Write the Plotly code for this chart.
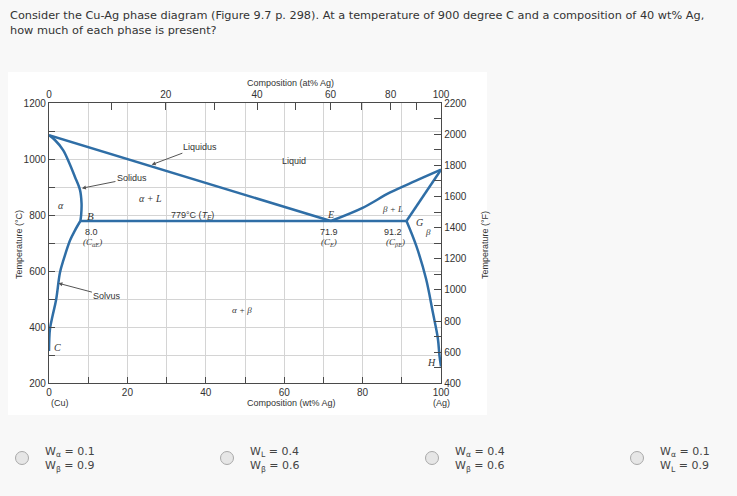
import plotly.graph_objects as go

# ---------------- data ----------------
liq_left_wt = [0, 71.9]
liq_left_t = [1085, 779]
liq_right_wt = [71.9, 80.0, 86.9, 93.5, 100]
liq_right_t = [779, 826, 880, 922, 962]
sol_left_wt = [0, 1.5, 3.6, 5.2, 6.6, 7.9, 8.3, 8.2, 8.0]
sol_left_t = [1085, 1068, 1032, 985, 937, 890, 842, 800, 779]
sol_right_wt = [91.2, 100]
sol_right_t = [779, 962]
solv_left_wt = [8.0, 6.6, 5.4, 3.7, 2.8, 1.8, 0.9, 0.25, 0]
solv_left_t = [779, 745, 711, 640, 595, 497, 440, 394, 315]
solv_right_wt = [91.2, 93.7, 96.2, 97.9, 99.2, 99.6, 100]
solv_right_t = [779, 690, 572, 454, 360, 300, 260]
eut_wt = [8.0, 91.2]
eut_t = [779, 779]

wt_ticks = [0, 10, 20, 30, 40, 50, 60, 70, 80, 90, 100]
wt_labels = ["0", "", "20", "", "40", "", "60", "", "80", "", "100"]
at_ticks = [0, 10, 20, 30, 40, 50, 60, 70, 80, 90, 100]
at_labels = ["0", "", "20", "", "40", "", "60", "", "80", "", "100"]
c_ticks = [200, 300, 400, 500, 600, 700, 800, 900, 1000, 1100, 1200]
c_labels = ["200", "", "400", "", "600", "", "800", "", "1000", "", "1200"]
f_ticks = [400, 500, 600, 700, 800, 900, 1000, 1100, 1200, 1300, 1400, 1500,
           1600, 1700, 1800, 1900, 2000, 2100, 2200]
f_labels = ["400", "", "600", "", "800", "", "1000", "", "1200", "", "1400", "",
            "1600", "", "1800", "", "2000", "", "2200"]

question = ("Consider the Cu-Ag phase diagram (Figure 9.7 p. 298). At a temperature of 900 degree C "
            "and a composition of 40 wt% Ag,<br>how much of each phase is present?")
options = [
    "W<sub>α</sub> = 0.1<br>W<sub>β</sub> = 0.9",
    "W<sub>L</sub> = 0.4<br>W<sub>β</sub> = 0.6",
    "W<sub>α</sub> = 0.4<br>W<sub>β</sub> = 0.6",
    "W<sub>α</sub> = 0.1<br>W<sub>L</sub> = 0.9",
]

# atomic masses for top (at%) axis placement
M_CU, M_AG = 63.55, 107.87


def at_to_wt(a):
    return 100 * a * M_AG / (a * M_AG + (100 - a) * M_CU)


W, H = 737, 496
PAGE_BG = "#f8f8f8"


def px(x):
    return x / W


def py(y):
    return 1 - y / H


LINE = "#2f6ea6"
TXT = "#333333"
GRID = "#d4d4d4"
AX = "#4a4a4a"
SANS = "Liberation Sans, Arial, sans-serif"
SERIF = "Liberation Serif, Times New Roman, serif"

fig = go.Figure()
for xs, ys in [(liq_left_wt, liq_left_t), (liq_right_wt, liq_right_t),
               (sol_left_wt, sol_left_t), (sol_right_wt, sol_right_t),
               (solv_left_wt, solv_left_t), (solv_right_wt, solv_right_t),
               (eut_wt, eut_t)]:
    fig.add_trace(go.Scatter(x=xs, y=ys, mode="lines", line=dict(color=LINE, width=2.5),
                             line_shape="spline", showlegend=False, hoverinfo="skip"))

# invisible traces to activate secondary axes
fig.add_trace(go.Scatter(x=[0, 100], y=[200, 200], xaxis="x2", yaxis="y",
                         mode="lines", line=dict(width=0), showlegend=False, hoverinfo="skip"))
fig.add_trace(go.Scatter(x=[0, 100], y=[400, 400], xaxis="x", yaxis="y2",
                         mode="lines", line=dict(width=0), showlegend=False, hoverinfo="skip"))

xdom = [px(49), px(441)]
ydom = [py(383.3), py(103)]

fig.update_layout(
    width=W, height=H, autosize=False,
    margin=dict(l=0, r=0, t=0, b=0, pad=0, autoexpand=False),
    paper_bgcolor=PAGE_BG, plot_bgcolor="white",
    font=dict(family=SANS, size=10, color=TXT),
    xaxis=dict(domain=xdom, range=[0, 100], tickvals=wt_ticks, ticktext=wt_labels,
               automargin=False,
               showgrid=True, gridcolor=GRID, gridwidth=1, zeroline=False,
               showline=True, linecolor=AX, linewidth=1.3,
               ticks="inside", ticklen=6, tickcolor=AX, tickfont=dict(size=10, color=TXT)),
    xaxis2=dict(domain=xdom, range=[0, 100], overlaying="x", side="top", automargin=False,
                tickvals=[at_to_wt(a) for a in at_ticks], ticktext=at_labels,
                showgrid=False, zeroline=False, showline=True, linecolor=AX, linewidth=1.3,
                ticks="inside", ticklen=7, tickcolor=AX, tickfont=dict(size=10, color=TXT)),
    yaxis=dict(domain=ydom, range=[200, 1200], tickvals=c_ticks, ticktext=c_labels,
               automargin=False,
               showgrid=True, gridcolor=GRID, gridwidth=1, zeroline=False,
               showline=True, linecolor=AX, linewidth=1.3,
               ticks="inside", ticklen=6, tickcolor=AX, tickfont=dict(size=10, color=TXT)),
    yaxis2=dict(domain=ydom, range=[400, 2200], overlaying="y",
                side="right", tickvals=f_ticks, ticktext=f_labels, automargin=False,
                showgrid=False, zeroline=False, showline=True, linecolor=AX, linewidth=1.3,
                ticks="inside", ticklen=7, tickcolor=AX, tickfont=dict(size=10, color=TXT)),
)

shapes = [dict(type="rect", xref="paper", yref="paper", x0=px(8), x1=px(487),
               y0=py(415), y1=py(72), fillcolor="white", line=dict(width=0), layer="below")]
radio_x = [22, 227, 432, 637]
for cx in radio_x:
    shapes.append(dict(type="circle", xref="paper", yref="paper",
                       x0=px(cx - 6.5), x1=px(cx + 6.5), y0=py(458 + 6.5), y1=py(458 - 6.5),
                       fillcolor="#e6e6e6", line=dict(color="#a9a9a9", width=1)))
fig.update_layout(shapes=shapes)

ann = []


def lab(x, y, text, size=9, italic=False, **kw):
    fam = SERIF if italic else SANS
    t = f"<i>{text}</i>" if italic else text
    d = dict(x=x, y=y, xref="x", yref="y", text=t, showarrow=False,
             font=dict(family=fam, size=size, color=TXT))
    d.update(kw)
    ann.append(d)


lab(-2.0, 1086, "A", size=11, italic=True)
lab(3.1, 836, "α", size=10, italic=True)
lab(25.8, 858, "α + L", size=10, italic=True)
lab(36.7, 797, "779°C (<i>T</i><sub><i>E</i></sub>)", size=9)
lab(10.5, 797, "B", size=11, italic=True)
lab(10.8, 740, "8.0", size=9)
lab(11.2, 701, "(C<sub>αE</sub>)", size=9, italic=True)
lab(62.5, 993, "Liquid", size=9)
lab(71.9, 801, "E", size=10, italic=True)
lab(71.3, 740, "71.9", size=9)
lab(71.3, 701, "(C<sub>E</sub>)", size=9, italic=True)
lab(87.5, 822, "β + L", size=9, italic=True)
lab(94.6, 772, "G", size=10, italic=True)
lab(96.8, 740, "β", size=9, italic=True)
lab(87.8, 740, "91.2", size=9)
lab(88.5, 701, "(C<sub>βE</sub>)", size=9, italic=True)
lab(102.4, 936, "F", size=10, italic=True)
lab(49.2, 462, "α + β", size=9, italic=True)
lab(2.1, 326, "C", size=10, italic=True)
lab(97.7, 276, "H", size=10, italic=True)

arr = dict(showarrow=True, arrowhead=2, arrowsize=0.8, arrowwidth=1, arrowcolor="#555")
for x, y, text, ax, ay in [(26.2, 980, "Liquidus", 48, -18),
                           (8.4, 896, "Solidus", 50, -10),
                           (2.4, 557, "Solvus", 49, 13)]:
    d = dict(x=x, y=y, xref="x", yref="y", text=text, ax=ax, ay=ay,
             font=dict(family=SANS, size=9, color=TXT))
    d.update(arr)
    ann.append(d)

# axis titles and end labels (paper coordinates)
for x, y, text, kw in [(245, 76, "Composition (at% Ag)", {}),
                       (245, 410, "Composition (wt% Ag)", {}),
                       (49, 410, "(Cu)", {}),
                       (441, 410, "(Ag)", {}),
                       (12, 245, "Temperature (°C)", dict(textangle=-90)),
                       (485, 245, "Temperature (°F)", dict(textangle=-90))]:
    d = dict(x=px(x), y=py(y), xref="paper", yref="paper", text=text, showarrow=False,
             font=dict(family=SANS, size=9, color=TXT))
    d.update(kw)
    ann.append(d)

ann.append(dict(x=px(8), y=py(23), xref="paper", yref="paper", text=question,
                showarrow=False, xanchor="left", yanchor="middle", align="left",
                font=dict(family="DejaVu Sans, Verdana, sans-serif", size=11.3, color="#333")))

text_x = [43, 248, 453, 658]
for tx, opt in zip(text_x, options):
    ann.append(dict(x=px(tx), y=py(459), xref="paper", yref="paper", text=opt,
                    showarrow=False, xanchor="left", yanchor="middle", align="left",
                    font=dict(family="DejaVu Sans, Verdana, sans-serif", size=11, color="#444")))

fig.update_layout(annotations=ann)
fig.write_html(
    "out.html",
    config={"displayModeBar": False},
    post_script=("document.body.style.margin='0';"
                 "document.body.style.background='" + PAGE_BG + "';"),
)
